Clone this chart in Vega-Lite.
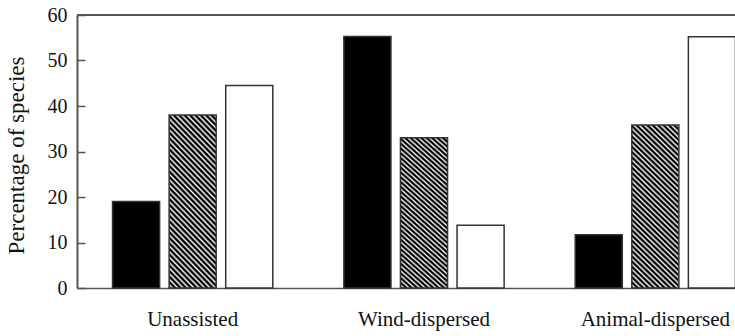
{
  "$schema": "https://vega.github.io/schema/vega-lite/v6.json",
  "width": 658,
  "height": 273,
  "autosize": "none",
  "padding": {"left": 77, "top": 15, "right": 0, "bottom": 48},
  "background": "white",
  "config": {"view": {"stroke": null}, "font": "Liberation Serif", "axis": {"grid": false}},
  "data": {"values": [
    {"dispersal": "Unassisted", "series": "A", "percentage": 19.0},
    {"dispersal": "Unassisted", "series": "B", "percentage": 38.0},
    {"dispersal": "Unassisted", "series": "C", "percentage": 44.5},
    {"dispersal": "Wind-dispersed", "series": "A", "percentage": 55.3},
    {"dispersal": "Wind-dispersed", "series": "B", "percentage": 33.0},
    {"dispersal": "Wind-dispersed", "series": "C", "percentage": 13.8},
    {"dispersal": "Animal-dispersed", "series": "A", "percentage": 11.7},
    {"dispersal": "Animal-dispersed", "series": "B", "percentage": 35.8},
    {"dispersal": "Animal-dispersed", "series": "C", "percentage": 55.2}
  ]},
  "layer": [
    {
      "mark": {"type": "bar", "stroke": "#333", "strokeWidth": 1.5},
      "encoding": {
        "y": {
          "field": "percentage", "type": "quantitative",
          "scale": {"domain": [0, 60], "nice": false},
          "axis": {
            "title": "Percentage of species", "values": [0, 10, 20, 30, 40, 50, 60],
            "tickSize": -8, "tickColor": "#555", "tickWidth": 1.5,
            "domainColor": "#555", "domainWidth": 2,
            "labelFont": "Liberation Serif", "labelFontSize": 20, "labelColor": "#111", "labelPadding": 18,
            "titleFont": "Liberation Serif", "titleFontSize": 23, "titleFontWeight": "normal", "titleColor": "#111", "titlePadding": 19, "titleY": 140
          }
        },
        "x": {
          "field": "dispersal", "type": "nominal",
          "sort": ["Unassisted", "Wind-dispersed", "Animal-dispersed"],
          "scale": {"range": [0, 694], "paddingInner": 0, "paddingOuter": 0},
          "axis": {"title": null, "ticks": false, "labelAngle": 0, "domainColor": "#555", "domainWidth": 1.5,
                   "labelFont": "Liberation Serif", "labelFontSize": 21, "labelColor": "#111", "labelPadding": 20}
        },
        "xOffset": {"field": "series", "type": "nominal", "sort": ["A", "B", "C"],
                    "scale": {"paddingInner": 0.168, "paddingOuter": 0.628}},
        "fill": {
          "condition": {"test": "datum.series === 'B'", "value": {
            "gradient": "linear", "x1": 0, "y1": 1, "x2": 0.332, "y2": -0.187,
            "stops": [
              {"offset": 0, "color": "#000"}, {"offset": 0.00625, "color": "#000"}, {"offset": 0.015, "color": "#fff"},
              {"offset": 0.025, "color": "#000"}, {"offset": 0.03125, "color": "#000"}, {"offset": 0.04, "color": "#fff"},
              {"offset": 0.05, "color": "#000"}, {"offset": 0.05625, "color": "#000"}, {"offset": 0.065, "color": "#fff"},
              {"offset": 0.075, "color": "#000"}, {"offset": 0.08125, "color": "#000"}, {"offset": 0.09, "color": "#fff"},
              {"offset": 0.1, "color": "#000"}, {"offset": 0.10625, "color": "#000"}, {"offset": 0.115, "color": "#fff"},
              {"offset": 0.125, "color": "#000"}, {"offset": 0.13125, "color": "#000"}, {"offset": 0.14, "color": "#fff"},
              {"offset": 0.15, "color": "#000"}, {"offset": 0.15625, "color": "#000"}, {"offset": 0.165, "color": "#fff"},
              {"offset": 0.175, "color": "#000"}, {"offset": 0.18125, "color": "#000"}, {"offset": 0.19, "color": "#fff"},
              {"offset": 0.2, "color": "#000"}, {"offset": 0.20625, "color": "#000"}, {"offset": 0.215, "color": "#fff"},
              {"offset": 0.225, "color": "#000"}, {"offset": 0.23125, "color": "#000"}, {"offset": 0.24, "color": "#fff"},
              {"offset": 0.25, "color": "#000"}, {"offset": 0.25625, "color": "#000"}, {"offset": 0.265, "color": "#fff"},
              {"offset": 0.275, "color": "#000"}, {"offset": 0.28125, "color": "#000"}, {"offset": 0.29, "color": "#fff"},
              {"offset": 0.3, "color": "#000"}, {"offset": 0.30625, "color": "#000"}, {"offset": 0.315, "color": "#fff"},
              {"offset": 0.325, "color": "#000"}, {"offset": 0.33125, "color": "#000"}, {"offset": 0.34, "color": "#fff"},
              {"offset": 0.35, "color": "#000"}, {"offset": 0.35625, "color": "#000"}, {"offset": 0.365, "color": "#fff"},
              {"offset": 0.375, "color": "#000"}, {"offset": 0.38125, "color": "#000"}, {"offset": 0.39, "color": "#fff"},
              {"offset": 0.4, "color": "#000"}, {"offset": 0.40625, "color": "#000"}, {"offset": 0.415, "color": "#fff"},
              {"offset": 0.425, "color": "#000"}, {"offset": 0.43125, "color": "#000"}, {"offset": 0.44, "color": "#fff"},
              {"offset": 0.45, "color": "#000"}, {"offset": 0.45625, "color": "#000"}, {"offset": 0.465, "color": "#fff"},
              {"offset": 0.475, "color": "#000"}, {"offset": 0.48125, "color": "#000"}, {"offset": 0.49, "color": "#fff"},
              {"offset": 0.5, "color": "#000"}, {"offset": 0.50625, "color": "#000"}, {"offset": 0.515, "color": "#fff"},
              {"offset": 0.525, "color": "#000"}, {"offset": 0.53125, "color": "#000"}, {"offset": 0.54, "color": "#fff"},
              {"offset": 0.55, "color": "#000"}, {"offset": 0.55625, "color": "#000"}, {"offset": 0.565, "color": "#fff"},
              {"offset": 0.575, "color": "#000"}, {"offset": 0.58125, "color": "#000"}, {"offset": 0.59, "color": "#fff"},
              {"offset": 0.6, "color": "#000"}, {"offset": 0.60625, "color": "#000"}, {"offset": 0.615, "color": "#fff"},
              {"offset": 0.625, "color": "#000"}, {"offset": 0.63125, "color": "#000"}, {"offset": 0.64, "color": "#fff"},
              {"offset": 0.65, "color": "#000"}, {"offset": 0.65625, "color": "#000"}, {"offset": 0.665, "color": "#fff"},
              {"offset": 0.675, "color": "#000"}, {"offset": 0.68125, "color": "#000"}, {"offset": 0.69, "color": "#fff"},
              {"offset": 0.7, "color": "#000"}, {"offset": 0.70625, "color": "#000"}, {"offset": 0.715, "color": "#fff"},
              {"offset": 0.725, "color": "#000"}, {"offset": 0.73125, "color": "#000"}, {"offset": 0.74, "color": "#fff"},
              {"offset": 0.75, "color": "#000"}, {"offset": 0.75625, "color": "#000"}, {"offset": 0.765, "color": "#fff"},
              {"offset": 0.775, "color": "#000"}, {"offset": 0.78125, "color": "#000"}, {"offset": 0.79, "color": "#fff"},
              {"offset": 0.8, "color": "#000"}, {"offset": 0.80625, "color": "#000"}, {"offset": 0.815, "color": "#fff"},
              {"offset": 0.825, "color": "#000"}, {"offset": 0.83125, "color": "#000"}, {"offset": 0.84, "color": "#fff"},
              {"offset": 0.85, "color": "#000"}, {"offset": 0.85625, "color": "#000"}, {"offset": 0.865, "color": "#fff"},
              {"offset": 0.875, "color": "#000"}, {"offset": 0.88125, "color": "#000"}, {"offset": 0.89, "color": "#fff"},
              {"offset": 0.9, "color": "#000"}, {"offset": 0.90625, "color": "#000"}, {"offset": 0.915, "color": "#fff"},
              {"offset": 0.925, "color": "#000"}, {"offset": 0.93125, "color": "#000"}, {"offset": 0.94, "color": "#fff"},
              {"offset": 0.95, "color": "#000"}, {"offset": 0.95625, "color": "#000"}, {"offset": 0.965, "color": "#fff"},
              {"offset": 0.975, "color": "#000"}, {"offset": 0.98125, "color": "#000"}, {"offset": 0.99, "color": "#fff"},
              {"offset": 1, "color": "#000"}
            ]}},
          "field": "series", "type": "nominal",
          "scale": {"domain": ["A", "B", "C"], "range": ["#000000", "#888888", "#ffffff"]},
          "legend": null
        }
      }
    },
    {
      "data": {"values": [{"top": 60}]},
      "mark": {"type": "rule", "color": "#555", "strokeWidth": 2},
      "encoding": {"y": {"field": "top", "type": "quantitative"}}
    }
  ]
}
